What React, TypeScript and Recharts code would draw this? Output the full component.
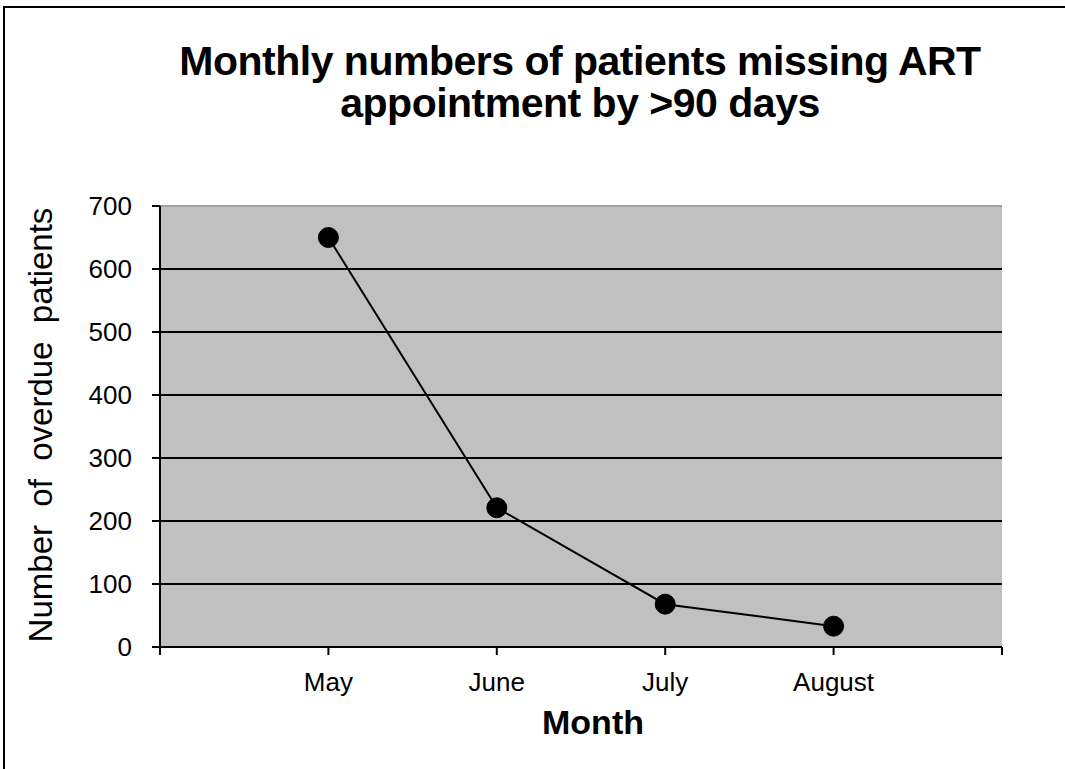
import { CartesianGrid, Line, LineChart, ReferenceLine, XAxis, YAxis } from 'recharts'

const months = ['May', 'June', 'July', 'August']
const overdue = [650, 221, 68, 33]
const yTicks = [0, 100, 200, 300, 400, 500, 600, 700]
// category slots: 0 and 5 are empty edges, months sit on 1..4
const xSlots = [0, 1, 2, 3, 4, 5]

const data = months.map((m, i) => ({ pos: i + 1, month: m, value: overdue[i] }))

const font = 'Arial, "Liberation Sans", Helvetica, sans-serif'

export default function App() {
  return (
    <div
      style={{
        position: 'absolute',
        left: 0,
        top: 0,
        width: 1065,
        height: 769,
        background: '#fff',
        overflow: 'hidden',
        fontFamily: font,
      }}
    >
      {/* outer frame: only top and left edges are inside the picture */}
      <div style={{ position: 'absolute', left: 3, top: 6, width: 1062, height: 2, background: '#000' }} />
      <div style={{ position: 'absolute', left: 3, top: 6, width: 2, height: 763, background: '#000' }} />
      <div
        style={{
          position: 'absolute',
          left: 80,
          width: 1000,
          top: 40,
          textAlign: 'center',
          fontWeight: 'bold',
          fontSize: 41,
          letterSpacing: -0.5,
          lineHeight: '42px',
          color: '#000',
        }}
      >
        Monthly numbers of patients missing ART
        <br />
        appointment by &gt;90 days
      </div>
      <div style={{ position: 'absolute', left: 0, top: 0, width: 1065, height: 769 }}>
        <LineChart
          width={1065}
          height={769}
          data={data}
          margin={{ top: 206, right: 63, bottom: 62, left: 60 }}
        >
          <CartesianGrid vertical={false} stroke="#000" strokeWidth={2} fill="#c0c0c0" />
          <ReferenceLine y={700} stroke="#a0a0a0" strokeWidth={2} />
          <XAxis
            dataKey="pos"
            type="number"
            domain={[0, 5]}
            ticks={xSlots}
            interval={0}
            height={60}
            tickSize={8}
            tickMargin={18}
            tickFormatter={(v: number) => months[v - 1] ?? ''}
            axisLine={{ stroke: '#000', strokeWidth: 2 }}
            tickLine={{ stroke: '#000', strokeWidth: 2 }}
            tick={{ fill: '#000', fontSize: 26, fontFamily: font }}
          />
          <YAxis
            domain={[0, 700]}
            ticks={yTicks}
            interval={0}
            width={100}
            tickSize={8}
            tickMargin={20}
            axisLine={{ stroke: '#000', strokeWidth: 2 }}
            tickLine={{ stroke: '#000', strokeWidth: 2 }}
            tick={{ fill: '#000', fontSize: 26, fontFamily: font }}
          />
          <Line
            dataKey="value"
            type="linear"
            stroke="#000"
            strokeWidth={2}
            dot={{ r: 10, fill: '#000', stroke: '#000', strokeWidth: 1 }}
            isAnimationActive={false}
          />
        </LineChart>
      </div>
      <div
        style={{
          position: 'absolute',
          left: 41,
          top: 425,
          transform: 'translate(-50%, -50%) rotate(-90deg)',
          whiteSpace: 'pre',
          fontSize: 33,
          lineHeight: '36px',
          color: '#000',
        }}
      >
        Number  of  overdue  patients
      </div>
      <div
        style={{
          position: 'absolute',
          left: 593,
          top: 722,
          transform: 'translate(-50%, -50%)',
          fontWeight: 'bold',
          fontSize: 34,
          color: '#000',
        }}
      >
        Month
      </div>
    </div>
  )
}
